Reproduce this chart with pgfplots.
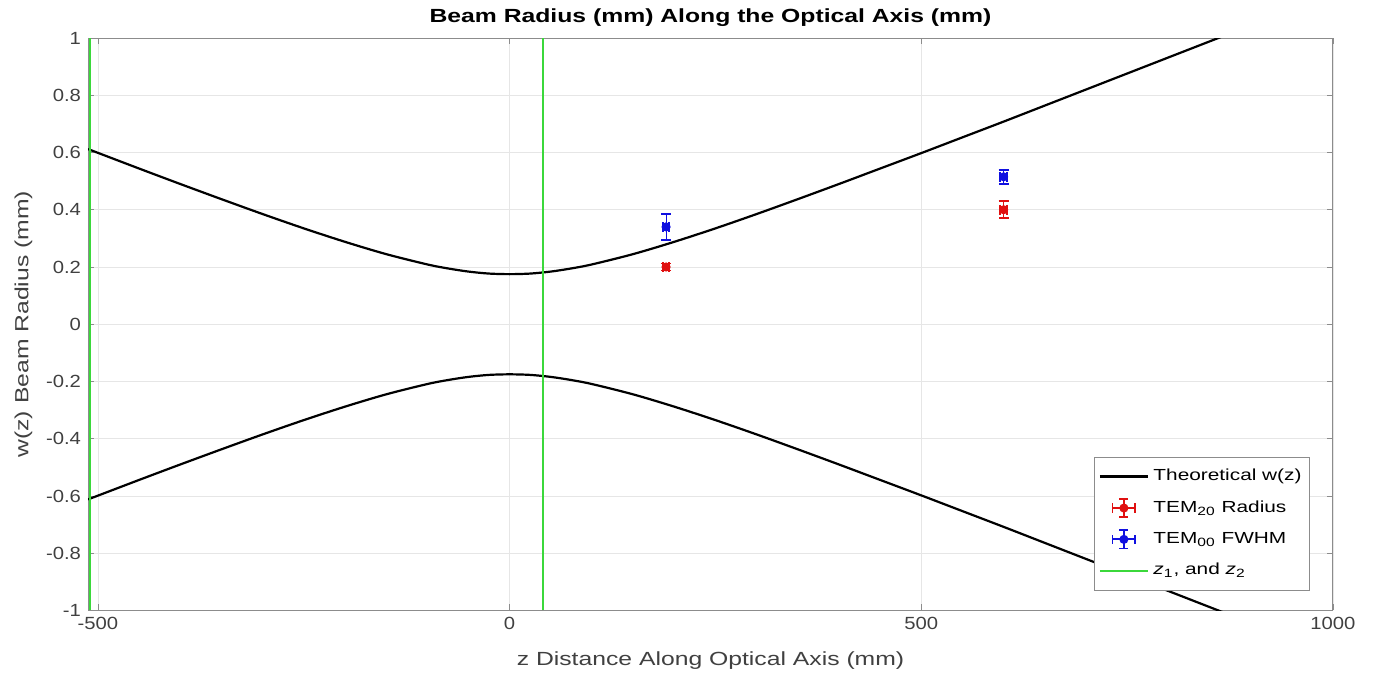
\documentclass[border=0pt]{standalone}
\usepackage{fontspec}
\setmainfont[FakeStretch=1.3]{Liberation Sans}
\newfontfamily\tickfont[FakeStretch=1.15]{Liberation Sans}
\usepackage{pgfplots}
\pgfplotsset{compat=1.18}
\usetikzlibrary{calc}
\definecolor{gridgray}{HTML}{E6E6E6}
\definecolor{axgray}{HTML}{8C8C8C}
\definecolor{zgreen}{HTML}{3BD83B}
\definecolor{tred}{HTML}{E01010}
\definecolor{tblue}{HTML}{1010E0}

\pgfplotsset{
    errlegend/.style={
        legend image code/.code={
            \draw[line width=0.9pt] (0.22cm,0cm) -- (0.62cm,0cm);
            \draw[line width=0.9pt] (0.22cm,-0.08cm) -- (0.22cm,0.08cm);
            \draw[line width=0.9pt] (0.62cm,-0.08cm) -- (0.62cm,0.08cm);
            \draw[line width=0.9pt] (0.42cm,-0.16cm) -- (0.42cm,0.16cm);
            \draw[line width=0.9pt] (0.34cm,-0.16cm) -- (0.50cm,-0.16cm);
            \draw[line width=0.9pt] (0.34cm,0.16cm) -- (0.50cm,0.16cm);
            \fill (0.42cm,0cm) circle (1.8pt);
        }
    },
    linelegend/.style={
        legend image code/.code={
            \draw (0cm,0cm) -- (0.85cm,0cm);
        }
    },
}

\begin{document}
\begin{tikzpicture}
\begin{axis}[
    scale only axis,
    width=622pt, height=286pt,
    xmin=-512, xmax=1000,
    ymin=-1, ymax=1,
    xtick={-500,0,500,1000},
    ytick={-1,-0.8,-0.6,-0.4,-0.2,0,0.2,0.4,0.6,0.8,1},
    /pgf/number format/.cd, fixed, 1000 sep={}, assume math mode=true, /pgfplots/.cd,
    tick label style={font=\tickfont\fontsize{8.8}{10}\selectfont, text=black!75},
    tick align=inside,
    major tick length=3pt,
    tick style={axgray, line width=0.4pt},
    axis line style={axgray, line width=0.5pt},
    grid=major,
    grid style={gridgray, line width=0.4pt},
    title={\bfseries Beam Radius (mm) Along the Optical Axis (mm)},
    title style={font=\fontsize{9.5}{11}\selectfont, yshift=-4pt},
    xlabel={z Distance Along Optical Axis (mm)},
    ylabel={w(z) Beam Radius (mm)},
    label style={font=\fontsize{9.5}{11}\selectfont, text=black!75},
    xlabel style={yshift=-4pt},
    ylabel style={yshift=0pt},
    legend style={at={(rel axis cs:0.9815,0.035)}, anchor=south east,
        font=\fontsize{8}{9.5}\selectfont, draw=axgray, fill=white,
        row sep=4.5pt, inner xsep=2pt, inner ysep=4pt},
    legend cell align=left,
]
% theoretical beam radius, upper branch
\addplot[black, line width=1.1pt, smooth, linelegend] coordinates {
    (-512,0.612) (-450,0.544) (-400,0.490) (-350,0.437) (-300,0.385)
    (-250,0.335) (-200,0.288) (-150,0.245) (-100,0.209) (-75,0.195)
    (-50,0.184) (-25,0.177) (0,0.175) (25,0.177) (50,0.184) (75,0.195)
    (100,0.209) (150,0.245) (200,0.288) (250,0.335) (300,0.385)
    (350,0.437) (400,0.490) (450,0.544) (500,0.598) (550,0.653)
    (600,0.708) (650,0.764) (700,0.820) (750,0.876) (800,0.932)
    (850,0.988) (900,1.044) (950,1.100) (1000,1.156)
};
\addlegendentry{Theoretical w(z)}
% lower branch
\addplot[black, line width=1.1pt, smooth, forget plot] coordinates {
    (-512,-0.612) (-450,-0.544) (-400,-0.490) (-350,-0.437) (-300,-0.385)
    (-250,-0.335) (-200,-0.288) (-150,-0.245) (-100,-0.209) (-75,-0.195)
    (-50,-0.184) (-25,-0.177) (0,-0.175) (25,-0.177) (50,-0.184) (75,-0.195)
    (100,-0.209) (150,-0.245) (200,-0.288) (250,-0.335) (300,-0.385)
    (350,-0.437) (400,-0.490) (450,-0.544) (500,-0.598) (550,-0.653)
    (600,-0.708) (650,-0.764) (700,-0.820) (750,-0.876) (800,-0.932)
    (850,-0.988) (900,-1.044) (950,-1.100) (1000,-1.156)
};
% measured TEM20 radius
\addplot[tred, only marks, mark=*, mark size=1.8pt, line width=0.9pt, errlegend,
    error bars/.cd, x dir=both, x explicit, y dir=both, y explicit,
    error mark options={rotate=90, mark size=2.5pt, line width=0.9pt}]
    coordinates {
    (190,0.200) +- (4,0.012)
    (600,0.400) +- (4,0.030)
};
\addlegendentry{TEM\textsubscript{20} Radius}
% measured TEM00 FWHM
\addplot[tblue, only marks, mark=*, mark size=1.8pt, line width=0.9pt, errlegend,
    error bars/.cd, x dir=both, x explicit, y dir=both, y explicit,
    error mark options={rotate=90, mark size=2.5pt, line width=0.9pt}]
    coordinates {
    (190,0.340) +- (4,0.045)
    (600,0.515) +- (4,0.025)
};
\addlegendentry{TEM\textsubscript{00} FWHM}
% z1 and z2
\addplot[zgreen, line width=1.1pt, linelegend] coordinates {(41,-1) (41,1)};
\addlegendentry{\textit{z}\textsubscript{1}, and \textit{z}\textsubscript{2}}
\addplot[zgreen, line width=1.1pt, forget plot] coordinates {(-510,-1) (-510,1)};
\end{axis}
\path ($(current axis.south west)+(-44pt,-35.5pt)$) rectangle
      ($(current axis.north east)+(20pt,19pt)$);
\end{tikzpicture}
\end{document}
